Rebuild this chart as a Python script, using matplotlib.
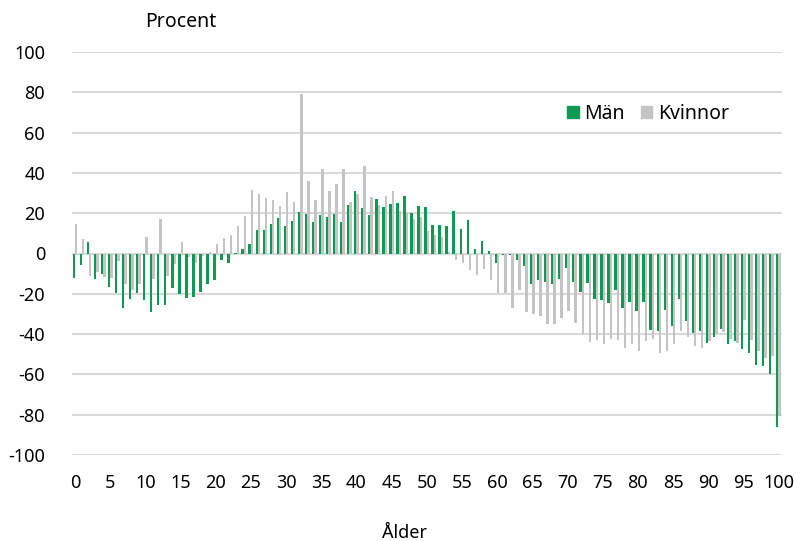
import matplotlib
matplotlib.use("Agg")
import matplotlib.pyplot as plt
from matplotlib import font_manager
import numpy as np
from matplotlib.patches import Patch

names = sorted({f.name + '|' + str(f.stretch) for f in font_manager.fontManager.ttflist})
print('\n'.join(n for n in names if 'Cond' in n or 'Narrow' in n or 'condensed' in n.lower()))

plt.rcParams['font.family'] = ['Noto Sans', 'DejaVu Sans']
plt.rcParams['font.stretch'] = 'condensed'

ages = list(range(0, 101))
man = [-12.2, -5.9, 5.8, -12.7, -10.2, -16.6, -19.8, -27.0, -22.7, -19.7,
       -23.2, -29.0, -25.4, -25.4, -17.3, -20.3, -22.2, -21.7, -19.3, -14.9,
       -13.0, -3.0, -4.6, 0.3, 2.2, 4.5, 11.6, 11.8, 14.8, 17.4,
       13.5, 16.1, 20.6, 19.8, 15.4, 19.1, 18.1, 19.4, 15.6, 23.9,
       31.1, 22.8, 18.9, 27.2, 22.9, 24.4, 25.0, 28.7, 20.0, 23.8,
       23.3, 14.3, 14.3, 13.7, 21.3, 12.3, 16.7, 2.3, 6.1, 1.2,
       -4.5, -0.5, -0.5, -3.3, -6.3, -15.0, -13.0, -14.3, -15.3, -12.7,
       -7.3, -14.0, -19.2, -14.7, -22.7, -23.0, -24.7, -18.3, -26.8, -24.1,
       -28.6, -24.0, -37.8, -38.6, -27.8, -36.0, -22.6, -33.4, -39.4, -38.4,
       -44.4, -41.4, -37.3, -45.1, -43.6, -47.3, -49.4, -55.1, -55.6, -59.7,
       -86.0]
kvinnor = [14.6, 7.3, -11.4, -9.2, -11.9, -12.2, -3.9, -15.0, -18.3, -14.9,
           8.1, -12.7, 16.9, -11.0, -5.4, 5.8, -1.7, -4.6, -1.4, 0.7,
           4.7, 7.5, 9.2, 13.6, 18.8, 31.7, 29.4, 27.7, 26.7, 23.4,
           30.7, 25.4, 79.1, 36.0, 26.7, 42.0, 30.9, 34.7, 42.0, 25.7,
           29.7, 43.2, 28.2, 24.3, 28.4, 30.9, 21.3, 20.8, 17.0, 18.3,
           11.2, 9.0, 8.3, 0.7, -3.0, -4.7, -8.0, -10.5, -7.5, -13.3,
           -19.5, -19.5, -27.0, -18.3, -28.8, -30.0, -31.0, -35.0, -35.0, -32.0,
           -28.3, -34.3, -40.0, -43.7, -43.0, -45.0, -42.5, -43.0, -46.7, -45.0,
           -48.3, -43.5, -42.4, -49.3, -48.4, -44.8, -38.4, -41.4, -46.1, -46.8,
           -43.6, -39.8, -39.1, -42.3, -44.4, -33.1, -42.8, -48.4, -51.7, -50.9,
           -80.5]
yticks = [-100, -80, -60, -40, -20, 0, 20, 40, 60, 80, 100]
xticks = list(range(0, 101, 5))

green = '#0E9A52'
grey = '#C4C4C4'

fig = plt.figure(figsize=(7.97, 5.41), dpi=100)
ax = fig.add_axes([71.5/797, 1-455/541, (782-71.5)/797, (455-52)/541])

x = np.array(ages)
w = 0.34
ax.bar(x - w/2, man, width=w, color=green, zorder=3, linewidth=0)
ax.bar(x + w/2, kvinnor, width=w, color=grey, zorder=3, linewidth=0)

ax.set_xlim(-0.5, 100.5)
ax.set_ylim(-100, 100)
ax.set_yticks(yticks)
ax.set_xticks(xticks)
ax.set_yticklabels([str(v) for v in yticks], fontsize=13)
ax.set_xticklabels([str(v) for v in xticks], fontsize=13)
ax.tick_params(axis='both', length=0)
ax.tick_params(axis='y', pad=19)
ax.tick_params(axis='x', pad=14)
ax.grid(axis='y', color='#D9D9D9', linewidth=1.5, zorder=0)
for s in ax.spines.values():
    s.set_visible(False)

fig.text(181/797, 1-22/541, 'Procent', fontsize=14, ha='center', va='center')
fig.text(404/797, 1-533/541, 'Ålder', fontsize=13, ha='center', va='center')

handles = [Patch(color=green, label='Män'), Patch(color=grey, label='Kvinnor')]
ax.legend(handles=handles, loc='center', bbox_to_anchor=(648/797, 1-114/541),
          bbox_transform=fig.transFigure, ncol=2, frameon=False, fontsize=14,
          handlelength=0.6, handleheight=0.6, handletextpad=0.3, columnspacing=0.8)

fig.savefig('out.png', dpi=100)
